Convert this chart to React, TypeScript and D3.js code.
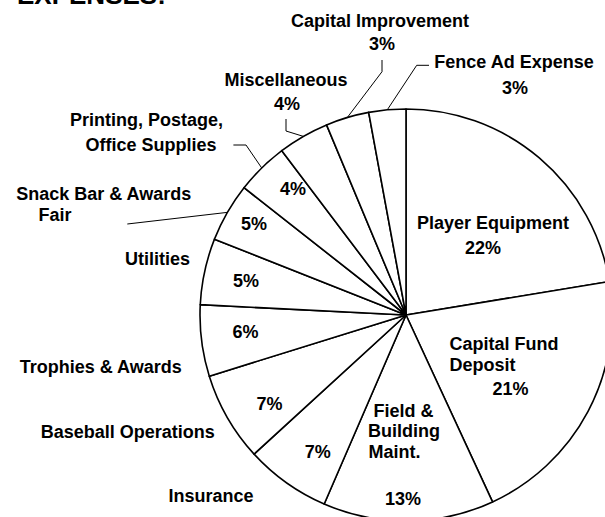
import React from "react";
import * as d3 from "d3";

// ---- data ----
const categories = [
  "Player Equipment",
  "Capital Fund Deposit",
  "Field & Building Maint.",
  "Insurance",
  "Baseball Operations",
  "Trophies & Awards",
  "Utilities",
  "Snack Bar & Awards Fair",
  "Printing, Postage, Office Supplies",
  "Miscellaneous",
  "Capital Improvement",
  "Fence Ad Expense",
];
const values = [22.4, 20.7, 13.4, 6.7, 7.0, 5.6, 5.2, 4.6, 4.1, 4.0, 3.4, 2.9];
const titleText = "EXPENSES:";

// ---- layout (text positions, not data) ----
type Line = { t: string; x: number; y: number; a: "start" | "middle" };
const nameLines: Line[][] = [
  [{ t: "Player Equipment", x: 493, y: 229, a: "middle" }],
  [
    { t: "Capital Fund", x: 449.5, y: 350, a: "start" },
    { t: "Deposit", x: 449.5, y: 371, a: "start" },
  ],
  [
    { t: "Field &", x: 373.5, y: 416.5, a: "start" },
    { t: "Building", x: 368, y: 436.5, a: "start" },
    { t: "Maint.", x: 368.5, y: 458, a: "start" },
  ],
  [{ t: "Insurance", x: 211, y: 502, a: "middle" }],
  [{ t: "Baseball Operations", x: 127.7, y: 438, a: "middle" }],
  [{ t: "Trophies & Awards", x: 100.7, y: 373, a: "middle" }],
  [{ t: "Utilities", x: 157.5, y: 265, a: "middle" }],
  [
    { t: "Snack Bar & Awards", x: 16.2, y: 200, a: "start" },
    { t: "Fair", x: 38.6, y: 221, a: "start" },
  ],
  [
    { t: "Printing, Postage,", x: 146.5, y: 126, a: "middle" },
    { t: "Office Supplies", x: 151, y: 151, a: "middle" },
  ],
  [{ t: "Miscellaneous", x: 286, y: 86, a: "middle" }],
  [{ t: "Capital Improvement", x: 380, y: 26.5, a: "middle" }],
  [{ t: "Fence Ad Expense", x: 514, y: 68, a: "middle" }],
];
const pctPos: [number, number][] = [
  [483, 254],
  [510.5, 395],
  [403, 505],
  [317.7, 458],
  [269.5, 410],
  [245.6, 338],
  [246, 287],
  [254, 230],
  [293, 195],
  [287, 110],
  [382, 50],
  [515, 94],
];
// leader line start points (end is computed on the pie rim)
const leaders: Record<number, [number, number][]> = {
  7: [[127.3, 224]],
  8: [
    [233.4, 145],
    [246, 145],
  ],
  9: [
    [286, 119],
    [286, 131],
  ],
  10: [
    [382, 60],
    [382, 71.7],
  ],
  11: [
    [429, 65.3],
    [416.7, 65.3],
  ],
};

const W = 605;
const H = 517;
const CX = 406;
const CY = 315;
const R = 206;
const FONT = "'Liberation Sans', Arial, Helvetica, sans-serif";

export default function App() {
  const pie = d3
    .pie<number>()
    .sort(null)
    .value((d) => d)
    .startAngle(0)
    .endAngle(2 * Math.PI);
  const arcs = pie(values);
  const arc = d3.arc<d3.PieArcDatum<number>>().innerRadius(0).outerRadius(R);
  const rim = d3.arc<d3.PieArcDatum<number>>().innerRadius(R).outerRadius(R);
  const total = d3.sum(values);
  const fmt = (v: number) => `${Math.round((v / total) * 100)}%`;
  const line = d3.line<[number, number]>();

  return (
    <svg
      width={W}
      height={H}
      style={{ position: "absolute", left: 0, top: 0, background: "#fff" }}
      fontFamily={FONT}
      fontWeight="bold"
      fontSize={18}
    >
      <rect width={W} height={H} fill="#fff" />
      <text x={17} y={4} fontSize={26} fill="#000">
        {titleText}
      </text>
      <g transform={`translate(${CX},${CY})`}>
        {arcs.map((a, i) => (
          <path
            key={i}
            d={arc(a) || ""}
            fill="#fff"
            stroke="#000"
            strokeWidth={1.6}
            strokeLinejoin="round"
          />
        ))}
      </g>
      {arcs.map((a, i) => {
        const pts = leaders[i];
        if (!pts) return null;
        const [ex, ey] = rim.centroid(a);
        const all: [number, number][] = [...pts, [ex + CX, ey + CY]];
        return (
          <path key={"l" + i} d={line(all) || ""} fill="none" stroke="#000" strokeWidth={1} />
        );
      })}
      {nameLines.map((ls, i) =>
        ls.map((l, j) => (
          <text key={`n${i}-${j}`} x={l.x} y={l.y} textAnchor={l.a} fill="#000">
            {l.t}
          </text>
        ))
      )}
      {arcs.map((a, i) => (
        <text key={"p" + i} x={pctPos[i][0]} y={pctPos[i][1]} textAnchor="middle" fill="#000">
          {fmt(a.data)}
        </text>
      ))}
    </svg>
  );
}
